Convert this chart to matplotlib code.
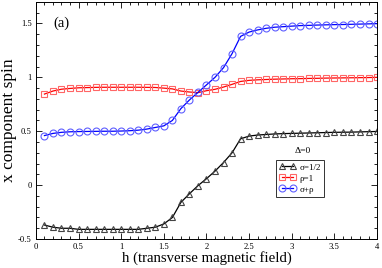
import numpy as np
import matplotlib
matplotlib.use("Agg")
import matplotlib.pyplot as plt
from matplotlib.ticker import MultipleLocator, FormatStrFormatter

plt.rcParams['font.family'] = ['Liberation Serif', 'DejaVu Serif']
plt.rcParams['mathtext.fontset'] = 'stix'

h = [round(0.1 * i, 1) for i in range(1, 41)]

sigma = [-0.37, -0.39, -0.40, -0.40, -0.41, -0.41, -0.41, -0.41, -0.41, -0.41,
         -0.41, -0.41, -0.40, -0.39, -0.36, -0.30, -0.16, -0.08, -0.005, 0.06,
         0.13, 0.21, 0.30, 0.43, 0.455, 0.465, 0.47, 0.475, 0.478, 0.48,
         0.482, 0.484, 0.486, 0.488, 0.49, 0.491, 0.492, 0.494, 0.496, 0.498]

rho = [0.845, 0.873, 0.89, 0.897, 0.903, 0.905, 0.907, 0.908, 0.908, 0.908,
       0.908, 0.908, 0.907, 0.906, 0.90, 0.893, 0.873, 0.864, 0.858, 0.876,
       0.889, 0.91, 0.935, 0.962, 0.972, 0.977, 0.98, 0.983, 0.985, 0.987,
       0.988, 0.99, 0.991, 0.993, 0.994, 0.995, 0.996, 0.997, 0.998, 1.0]

total = [0.46, 0.48, 0.49, 0.495, 0.497, 0.498, 0.499, 0.50, 0.50, 0.502,
         0.505, 0.51, 0.52, 0.535, 0.55, 0.60, 0.71, 0.79, 0.86, 0.93,
         1.00, 1.09, 1.22, 1.38, 1.42, 1.44, 1.455, 1.465, 1.47, 1.475,
         1.48, 1.482, 1.485, 1.487, 1.489, 1.49, 1.492, 1.494, 1.496, 1.498]

fig = plt.figure(figsize=(3.82, 2.68), dpi=100)
ax = fig.add_axes([0.094, 0.108, 0.893, 0.885])

mew = 0.8
ax.plot(h, sigma, '-', color='black', lw=0.9, marker='^', ms=4.8, mfc='none',
        mec='#444444', mew=mew, label='σ=1/2')
ax.plot(h, rho, '-', color='#ff0000', lw=0.9, marker='s', ms=4.4, mfc='none',
        mec='#ff6666', mew=mew, label='ρ=1')
ax.plot(h, total, '-', color='#0000ff', lw=0.9, marker='o', ms=5.0, mfc='none',
        mec='#5f5fff', mew=mew, label='σ+ρ')

ax.set_xlim(0, 4)
ax.set_ylim(-0.5, 1.7)
ax.xaxis.set_major_locator(MultipleLocator(0.5))
ax.xaxis.set_minor_locator(MultipleLocator(0.1))
ax.yaxis.set_major_locator(MultipleLocator(0.5))
ax.yaxis.set_minor_locator(MultipleLocator(0.1))
ax.xaxis.set_major_formatter(FormatStrFormatter('%g'))
ax.yaxis.set_major_formatter(FormatStrFormatter('%g'))
ax.tick_params(which='both', direction='in', top=True, right=True, width=0.6,
               labelsize=6.2)
ax.tick_params(axis='x', pad=3)
ax.tick_params(axis='y', pad=3)
ax.tick_params(which='major', length=4)
ax.tick_params(which='minor', length=2)
for s in ax.spines.values():
    s.set_linewidth(0.7)

ax.set_xlabel('h (transverse magnetic field)', fontsize=10.6, labelpad=0)
ax.set_ylabel('x component spin', fontsize=12.5, labelpad=1)

ax.text(0.2, 1.5, '(a)', fontsize=10.5, va='center', ha='left')
ax.text(3.03, 0.32, 'Δ=0', fontsize=6.8, ha='left', va='center')

leg = ax.legend(loc='upper left', bbox_to_anchor=(0.703, 0.333), fontsize=6.5,
                numpoints=2, frameon=True, fancybox=False, borderpad=0.35,
                handlelength=1.9, handletextpad=0.4, labelspacing=0.3,
                borderaxespad=0)
leg.get_frame().set_edgecolor('black')
leg.get_frame().set_linewidth(0.7)

fig.savefig('out.png', dpi=100)
